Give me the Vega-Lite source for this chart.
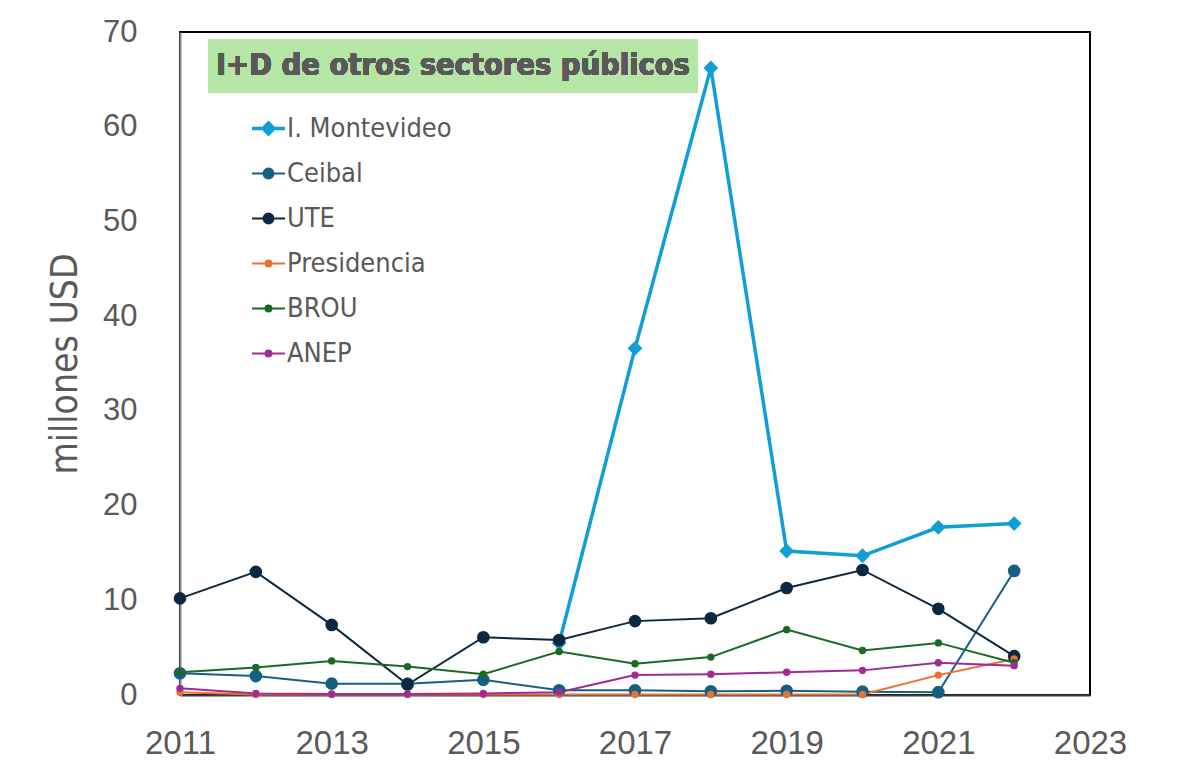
{
  "$schema": "https://vega.github.io/schema/vega-lite/v6.json",
  "width": 910,
  "height": 663,
  "autosize": "none",
  "padding": {"left": 180, "top": 32, "right": 111, "bottom": 71},
  "background": "white",
  "config": {
    "view": {"stroke": "#000000", "strokeWidth": 2},
    "font": "Liberation Sans"
  },
  "data": {
    "values": [
      {"serie": "I. Montevideo", "anio": 2016, "valor": 5.5},
      {"serie": "I. Montevideo", "anio": 2017, "valor": 36.6},
      {"serie": "I. Montevideo", "anio": 2018, "valor": 66.2},
      {"serie": "I. Montevideo", "anio": 2019, "valor": 15.2},
      {"serie": "I. Montevideo", "anio": 2020, "valor": 14.7},
      {"serie": "I. Montevideo", "anio": 2021, "valor": 17.7},
      {"serie": "I. Montevideo", "anio": 2022, "valor": 18.1},
      {"serie": "Ceibal", "anio": 2011, "valor": 2.3},
      {"serie": "Ceibal", "anio": 2012, "valor": 2.0},
      {"serie": "Ceibal", "anio": 2013, "valor": 1.2},
      {"serie": "Ceibal", "anio": 2014, "valor": 1.2},
      {"serie": "Ceibal", "anio": 2015, "valor": 1.6},
      {"serie": "Ceibal", "anio": 2016, "valor": 0.5},
      {"serie": "Ceibal", "anio": 2017, "valor": 0.5},
      {"serie": "Ceibal", "anio": 2018, "valor": 0.4},
      {"serie": "Ceibal", "anio": 2019, "valor": 0.45},
      {"serie": "Ceibal", "anio": 2020, "valor": 0.35},
      {"serie": "Ceibal", "anio": 2021, "valor": 0.3},
      {"serie": "Ceibal", "anio": 2022, "valor": 13.1},
      {"serie": "UTE", "anio": 2011, "valor": 10.2},
      {"serie": "UTE", "anio": 2012, "valor": 13.0},
      {"serie": "UTE", "anio": 2013, "valor": 7.4},
      {"serie": "UTE", "anio": 2014, "valor": 1.1},
      {"serie": "UTE", "anio": 2015, "valor": 6.1},
      {"serie": "UTE", "anio": 2016, "valor": 5.8},
      {"serie": "UTE", "anio": 2017, "valor": 7.8},
      {"serie": "UTE", "anio": 2018, "valor": 8.1},
      {"serie": "UTE", "anio": 2019, "valor": 11.3},
      {"serie": "UTE", "anio": 2020, "valor": 13.2},
      {"serie": "UTE", "anio": 2021, "valor": 9.1},
      {"serie": "UTE", "anio": 2022, "valor": 4.1},
      {"serie": "Presidencia", "anio": 2011, "valor": 0.3},
      {"serie": "Presidencia", "anio": 2012, "valor": 0.05},
      {"serie": "Presidencia", "anio": 2013, "valor": 0.05},
      {"serie": "Presidencia", "anio": 2014, "valor": 0.05},
      {"serie": "Presidencia", "anio": 2015, "valor": 0.05},
      {"serie": "Presidencia", "anio": 2016, "valor": 0.05},
      {"serie": "Presidencia", "anio": 2017, "valor": 0.05},
      {"serie": "Presidencia", "anio": 2018, "valor": 0.05},
      {"serie": "Presidencia", "anio": 2019, "valor": 0.05},
      {"serie": "Presidencia", "anio": 2020, "valor": 0.05},
      {"serie": "Presidencia", "anio": 2021, "valor": 2.1},
      {"serie": "Presidencia", "anio": 2022, "valor": 3.8},
      {"serie": "BROU", "anio": 2011, "valor": 2.4},
      {"serie": "BROU", "anio": 2012, "valor": 2.9},
      {"serie": "BROU", "anio": 2013, "valor": 3.6},
      {"serie": "BROU", "anio": 2014, "valor": 3.0},
      {"serie": "BROU", "anio": 2015, "valor": 2.2},
      {"serie": "BROU", "anio": 2016, "valor": 4.6},
      {"serie": "BROU", "anio": 2017, "valor": 3.3},
      {"serie": "BROU", "anio": 2018, "valor": 4.0},
      {"serie": "BROU", "anio": 2019, "valor": 6.9},
      {"serie": "BROU", "anio": 2020, "valor": 4.7},
      {"serie": "BROU", "anio": 2021, "valor": 5.5},
      {"serie": "BROU", "anio": 2022, "valor": 3.4},
      {"serie": "ANEP", "anio": 2011, "valor": 0.7},
      {"serie": "ANEP", "anio": 2012, "valor": 0.15},
      {"serie": "ANEP", "anio": 2013, "valor": 0.1},
      {"serie": "ANEP", "anio": 2014, "valor": 0.1},
      {"serie": "ANEP", "anio": 2015, "valor": 0.15},
      {"serie": "ANEP", "anio": 2016, "valor": 0.3},
      {"serie": "ANEP", "anio": 2017, "valor": 2.1},
      {"serie": "ANEP", "anio": 2018, "valor": 2.2},
      {"serie": "ANEP", "anio": 2019, "valor": 2.4},
      {"serie": "ANEP", "anio": 2020, "valor": 2.6},
      {"serie": "ANEP", "anio": 2021, "valor": 3.4},
      {"serie": "ANEP", "anio": 2022, "valor": 3.1}
    ]
  },
  "layer": [
    {
      "mark": {"type": "rect", "color": "#b5e6a6"},
      "encoding": {
        "x": {"datum": 2011.37, "type": "quantitative", "scale": {"domain": [2011, 2023], "nice": false, "zero": false}},
        "x2": {"datum": 2017.82},
        "y": {"datum": 69.2, "type": "quantitative"},
        "y2": {"datum": 63.6}
      }
    },
    {
      "mark": {"type": "text", "font": "DejaVu Sans Condensed, Roboto, sans-serif", "fontWeight": "bold", "fontSize": 30.5, "color": "#595959", "align": "center", "baseline": "middle"},
      "encoding": {
        "x": {"datum": 2014.6, "type": "quantitative"},
        "y": {"datum": 66.4, "type": "quantitative"},
        "text": {"value": "I+D de otros sectores públicos"}
      }
    },
    {
      "mark": {"type": "line"},
      "encoding": {
        "x": {
          "field": "anio", "type": "quantitative",
          "scale": {"domain": [2011, 2023], "nice": false, "zero": false},
          "axis": {
            "title": null, "values": [2011, 2013, 2015, 2017, 2019, 2021, 2023], "format": "d",
            "labelFontSize": 33, "labelColor": "#595959", "labelPadding": 32, "ticks": false, "labelFlush": false,
            "domainColor": "#404040", "domainWidth": 2,
            "gridColor": "#c8c8c8", "gridWidth": 2
          }
        },
        "y": {
          "field": "valor", "type": "quantitative",
          "scale": {"domain": [0, 70], "nice": false},
          "axis": {
            "title": "millones USD", "values": [0, 10, 20, 30, 40, 50, 60, 70],
            "labelFontSize": 31, "labelColor": "#595959", "labelPadding": 43, "ticks": false,
            "titleFont": "DejaVu Sans Condensed, Roboto, sans-serif", "titleFontSize": 37, "titleFontWeight": "normal", "titleColor": "#595959", "titlePadding": 18,
            "domainColor": "#8a8a8a", "domainWidth": 2,
            "gridColor": "#c8c8c8", "gridWidth": 2
          }
        },
        "color": {
          "field": "serie", "type": "nominal",
          "scale": {
            "domain": ["I. Montevideo", "Ceibal", "UTE", "Presidencia", "BROU", "ANEP"],
            "range": ["#0F9ED5", "#156082", "#0E2841", "#E97132", "#196B24", "#A02B93"]
          },
          "legend": {
            "title": null, "orient": "none", "legendX": 75, "legendY": 83,
            "labelFont": "DejaVu Sans Condensed, Roboto, sans-serif", "labelFontSize": 27, "labelColor": "#595959", "labelLimit": 400,
            "symbolSize": 1089, "rowPadding": 17, "labelOffset": 5,
            "encode": {
              "symbols": {
                "update": {
                  "shape": {"signal": "datum.value === 'I. Montevideo' ? 'M-1,0H1M0,-0.33L0.33,0L0,0.33L-0.33,0Z' : (datum.value === 'Ceibal' || datum.value === 'UTE') ? 'M-1,0H1M-0.3,0A0.3,0.3 0 1,0 0.3,0A0.3,0.3 0 1,0 -0.3,0Z' : 'M-1,0H1M-0.18,0A0.18,0.18 0 1,0 0.18,0A0.18,0.18 0 1,0 -0.18,0Z'"},
                  "fill": {"scale": "color", "field": "value"},
                  "stroke": {"scale": "color", "field": "value"},
                  "strokeWidth": {"signal": "datum.value === 'I. Montevideo' ? 3.5 : 2"},
                  "size": {"value": 1089},
                  "opacity": {"value": 1}
                }
              }
            }
          }
        },
        "strokeWidth": {"condition": {"test": "datum.serie === 'I. Montevideo'", "value": 3.5}, "value": 2}
      }
    },
    {
      "mark": {"type": "point", "filled": true, "opacity": 1},
      "encoding": {
        "x": {"field": "anio", "type": "quantitative"},
        "y": {"field": "valor", "type": "quantitative"},
        "color": {"field": "serie", "type": "nominal"},
        "shape": {"condition": {"test": "datum.serie === 'I. Montevideo'", "value": "diamond"}, "value": "circle"},
        "size": {"condition": [{"test": "datum.serie === 'Ceibal' || datum.serie === 'UTE'", "value": 160}, {"test": "datum.serie === 'I. Montevideo'", "value": 220}], "value": 55}
      }
    }
  ]
}
